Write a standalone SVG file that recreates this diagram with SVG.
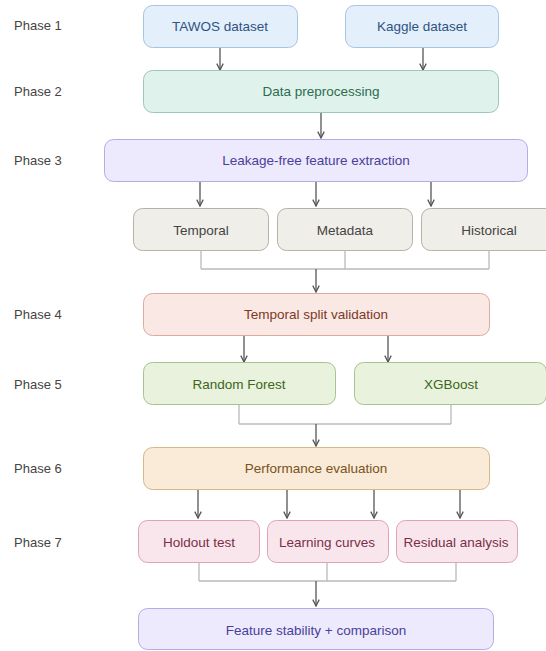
<svg xmlns="http://www.w3.org/2000/svg" width="546" height="651" viewBox="0 0 546 651">
<style>
text{font-family:"Liberation Sans",Arial,sans-serif;font-size:13.5px;text-anchor:middle;dominant-baseline:central}
.ph{text-anchor:start;fill:#444;font-size:13px}
rect{stroke-width:1}
.blue rect{fill:#E3EFFB;stroke:#A8C4E0}.blue text{fill:#2F5382}
.green rect{fill:#DFF3EC;stroke:#9CC9B5}.green text{fill:#2E6B50}
.purple rect{fill:#ECEAFC;stroke:#B3ACE8}.purple text{fill:#4A3F9A}
.grey rect{fill:#F0EEE8;stroke:#B5B2A8}.grey text{fill:#444}
.red rect{fill:#FAE8E4;stroke:#DDAA9E}.red text{fill:#7A3A26}
.lime rect{fill:#E8F2DC;stroke:#A8C48C}.lime text{fill:#3E6522}
.orange rect{fill:#F9EBD7;stroke:#D6B88A}.orange text{fill:#7A5220}
.pink rect{fill:#F9E6EC;stroke:#DFA3B5}.pink text{fill:#7A2E48}
.arr{stroke:#555;stroke-width:1.3;fill:none;marker-end:url(#ah)}
.mg{stroke:#BBB;stroke-width:1.3;fill:none}
</style>
<defs>
<marker id="ah" viewBox="0 0 10 10" refX="9" refY="5" markerWidth="8" markerHeight="8" markerUnits="userSpaceOnUse" orient="auto">
<path d="M1,1 L9,5 L1,9" fill="none" stroke="#555" stroke-width="1.6"/>
</marker>
</defs>
<g id="phases">
<text class="ph" x="14" y="25">Phase 1</text>
<text class="ph" x="14" y="91">Phase 2</text>
<text class="ph" x="14" y="160">Phase 3</text>
<text class="ph" x="14" y="314">Phase 4</text>
<text class="ph" x="14" y="384">Phase 5</text>
<text class="ph" x="14" y="468">Phase 6</text>
<text class="ph" x="14" y="542">Phase 7</text>
</g>
<g id="connectors">
<path class="arr" d="M220,48 V70"/>
<path class="arr" d="M423,48 V70"/>
<path class="arr" d="M321,112 V138"/>
<path class="arr" d="M200,182 V206"/>
<path class="arr" d="M316,182 V206"/>
<path class="arr" d="M431,182 V206"/>
<path class="mg" d="M201,251 V269 M345,251 V269 M489,251 V269 M201,269 H489"/>
<path class="arr" d="M316,269 V292"/>
<path class="arr" d="M244,335 V362"/>
<path class="arr" d="M388,335 V362"/>
<path class="mg" d="M239,405 V424 M451,405 V424 M239,424 H451"/>
<path class="arr" d="M316,424 V446"/>
<path class="arr" d="M198,489 V518"/>
<path class="arr" d="M287,489 V518"/>
<path class="arr" d="M374,489 V518"/>
<path class="arr" d="M460,489 V518"/>
<path class="mg" d="M199,563 V581 M327,563 V581 M456,563 V581 M199,581 H456"/>
<path class="arr" d="M316,581 V606"/>
</g>
<g id="tawos" class="blue"><rect x="143.5" y="5.5" width="154" height="42" rx="9"/><text x="220" y="26">TAWOS dataset</text></g>
<g id="kaggle" class="blue"><rect x="345.5" y="5.5" width="153" height="42" rx="9"/><text x="422" y="26">Kaggle dataset</text></g>
<g id="preprocessing" class="green"><rect x="143.5" y="70.5" width="355" height="42" rx="9"/><text x="321" y="91">Data preprocessing</text></g>
<g id="extraction" class="purple"><rect x="104.5" y="139.5" width="423" height="42" rx="9"/><text x="316" y="160">Leakage-free feature extraction</text></g>
<g id="temporal" class="grey"><rect x="133.5" y="208.5" width="135" height="42" rx="9"/><text x="201" y="230">Temporal</text></g>
<g id="metadata" class="grey"><rect x="277.5" y="208.5" width="135" height="42" rx="9"/><text x="345" y="230">Metadata</text></g>
<g id="historical" class="grey"><rect x="421.5" y="208.5" width="135" height="42" rx="9"/><text x="489" y="230">Historical</text></g>
<g id="split" class="red"><rect x="143.5" y="293.5" width="346" height="42" rx="9"/><text x="316" y="314">Temporal split validation</text></g>
<g id="rf" class="lime"><rect x="143.5" y="362.5" width="192" height="42" rx="9"/><text x="239" y="384">Random Forest</text></g>
<g id="xgb" class="lime"><rect x="354.5" y="362.5" width="192" height="42" rx="9"/><text x="451" y="384">XGBoost</text></g>
<g id="evaluation" class="orange"><rect x="143.5" y="447.5" width="346" height="42" rx="9"/><text x="316" y="468">Performance evaluation</text></g>
<g id="holdout" class="pink"><rect x="138.5" y="520.5" width="121" height="42" rx="9"/><text x="199" y="542">Holdout test</text></g>
<g id="learning" class="pink"><rect x="267.5" y="520.5" width="121" height="42" rx="9"/><text x="327" y="542">Learning curves</text></g>
<g id="residual" class="pink"><rect x="396.5" y="520.5" width="121" height="42" rx="9"/><text x="456" y="542">Residual analysis</text></g>
<g id="stability" class="purple"><rect x="138.5" y="608.5" width="355" height="41" rx="9"/><text x="316" y="630">Feature stability + comparison</text></g>
</svg>
